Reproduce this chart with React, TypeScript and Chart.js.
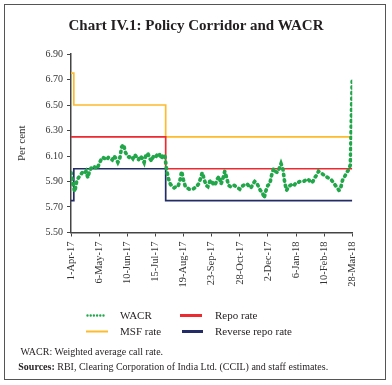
import React, { useEffect, useRef } from "react";
import { Chart, registerables } from "chart.js";

Chart.register(...registerables);

// Tick labels shown on the x axis (one every `daysPerTick` observations)
const tickLabels = [
  "1-Apr-17", "6-May-17", "10-Jun-17", "15-Jul-17", "19-Aug-17", "23-Sep-17",
  "28-Oct-17", "2-Dec-17", "6-Jan-18", "10-Feb-18", "28-Mar-18",
];
const daysPerTick = 15;

// WACR (per cent), one value per observation
const wacr = [
  5.97, 5.88, 5.82, 5.90, 5.93, 5.95, 5.97, 5.96, 5.98, 5.93,
  5.99, 6.01, 6.02, 6.01, 6.00, 6.04, 6.07, 6.09, 6.08, 6.07,
  6.09, 6.08, 6.07, 6.10, 6.08, 6.05, 6.08, 6.17, 6.19, 6.13,
  6.10, 6.09, 6.10, 6.08, 6.11, 6.09, 6.07, 6.10, 6.08, 6.05,
  6.11, 6.12, 6.08, 6.06, 6.10, 6.09, 6.11, 6.12, 6.08, 6.10,
  6.11, 5.99, 5.92, 5.88, 5.86, 5.85, 5.86, 5.86, 5.90, 5.98,
  5.91, 5.86, 5.85, 5.84, 5.84, 5.84, 5.85, 5.86, 5.88, 5.92,
  5.97, 5.92, 5.87, 5.86, 5.90, 5.91, 5.87, 5.88, 5.92, 5.94,
  5.88, 5.92, 5.98, 5.93, 5.87, 5.86, 5.86, 5.87, 5.86, 5.85,
  5.84, 5.86, 5.87, 5.88, 5.88, 5.86, 5.85, 5.88, 5.90, 5.89,
  5.86, 5.83, 5.82, 5.77, 5.83, 5.87, 5.88, 5.95, 6.00, 5.98,
  5.97, 6.00, 6.04, 6.00, 5.89, 5.83, 5.86, 5.87, 5.88, 5.87,
  5.89, 5.89, 5.90, 5.90, 5.90, 5.91, 5.92, 5.91, 5.89, 5.90,
  5.93, 5.95, 5.98, 5.97, 5.96, 5.95, 5.94, 5.93, 5.92, 5.91,
  5.89, 5.87, 5.85, 5.83, 5.86, 5.92, 5.94, 5.97, 5.99, 6.03,
  6.70,
];

// Policy rates: observation index at which each rate takes effect
const msfDay = [0, 1.5, 50.5, 150];
const msfRate = [6.75, 6.5, 6.25, 6.25];
const repoDay = [0, 50.5, 150];
const repoRate = [6.25, 6.0, 6.0];
const revDay = [0, 1.5, 50.5, 150];
const revRate = [5.75, 6.0, 5.75, 5.75];

const yTicks = { min: 5.5, max: 6.9, step: 0.2 };

const GREEN = "#22a64a";
const YELLOW = "#fdbb2d";
const RED = "#ec2a30";
const NAVY = "#232c66";
const FONT = '"Liberation Serif", "Times New Roman", serif';

export default function App() {
  const ref = useRef<HTMLCanvasElement | null>(null);

  useEffect(() => {
    if (!ref.current) return;
    const toPts = (xs: number[], ys: number[]) => xs.map((x, i) => ({ x, y: ys[i] }));
    const chart = new Chart(ref.current, {
      type: "line",
      data: {
        datasets: [
          {
            label: "WACR",
            data: wacr.map((y, i) => ({ x: i, y })),
            borderColor: GREEN,
            borderWidth: 3.7,
            borderDash: [1.2, 4.4],
            borderCapStyle: "round",
            pointRadius: 0,
            tension: 0,
          },
          {
            label: "Repo rate",
            data: toPts(repoDay, repoRate),
            borderColor: RED,
            borderWidth: 1.7,
            stepped: true,
            pointRadius: 0,
          },
          {
            label: "MSF rate",
            data: toPts(msfDay, msfRate),
            borderColor: YELLOW,
            borderWidth: 1.7,
            stepped: true,
            pointRadius: 0,
          },
          {
            label: "Reverse repo rate",
            data: toPts(revDay, revRate),
            borderColor: NAVY,
            borderWidth: 1.7,
            stepped: true,
            pointRadius: 0,
          },
        ],
      },
      options: {
        animation: false,
        responsive: false,
        devicePixelRatio: 1,
        layout: { padding: { left: 0, top: 54, right: 39.75, bottom: 82.5 } },
        plugins: { legend: { display: false }, tooltip: { enabled: false }, title: { display: false } },
        scales: {
          x: {
            type: "linear",
            min: 0,
            max: (tickLabels.length - 1) * daysPerTick,
            afterFit: (s: any) => { s.height = 70; },
            border: { display: true, color: "#444", width: 1.5 },
            grid: { drawOnChartArea: false, drawTicks: true, tickLength: 4, color: "#444" },
            ticks: {
              stepSize: daysPerTick,
              autoSkip: false,
              maxRotation: 90,
              minRotation: 90,
              padding: 5,
              color: "#333",
              font: { family: FONT, size: 10.5 },
              callback: (v: any) => {
                const k = Math.round(Number(v) / daysPerTick);
                return Math.abs(Number(v) - k * daysPerTick) < 1e-6 ? tickLabels[k] : "";
              },
            },
          },
          y: {
            min: yTicks.min,
            max: yTicks.max,
            afterFit: (s: any) => { s.width = 71; },
            border: { display: true, color: "#444", width: 1.5 },
            grid: { drawOnChartArea: false, drawTicks: true, tickLength: 4, color: "#444" },
            title: {
              display: true,
              text: "Per cent",
              color: "#333",
              font: { family: FONT, size: 11 },
              padding: { top: 16, bottom: 0 },
            },
            ticks: {
              stepSize: yTicks.step,
              padding: 4,
              color: "#333",
              font: { family: FONT, size: 10 },
              callback: (v: any) => Number(v).toFixed(2),
            },
          },
        },
      },
    });
    return () => chart.destroy();
  }, []);

  const abs = (s: React.CSSProperties): React.CSSProperties => ({ position: "absolute", ...s });

  return (
    <div
      style={{
        position: "fixed",
        left: 0,
        top: 0,
        width: 392,
        height: 385,
        background: "#fff",
        fontFamily: FONT,
        color: "#231f20",
        overflow: "hidden",
      }}
    >
      <canvas ref={ref} width={392} height={385} style={abs({ left: 0, top: 0, width: 392, height: 385 })} />
      <div style={abs({ left: 4, top: 4, width: 382, height: 376, border: "1.5px solid #555", boxSizing: "border-box" })} />
      <div style={abs({ left: 0, top: 16, width: 392, textAlign: "center", fontSize: 15, lineHeight: "18px", fontWeight: "bold" })}>
        Chart IV.1: Policy Corridor and WACR
      </div>

      {/* Legend */}
      <svg width={392} height={30} style={abs({ left: 0, top: 305 })}>
        <line x1={87.5} y1={10.5} x2={106} y2={10.5} stroke={GREEN} strokeWidth={2.4} strokeDasharray="0 3.2" strokeLinecap="round" />
        <line x1={180} y1={10.5} x2={202} y2={10.5} stroke={RED} strokeWidth={3} />
        <line x1={86} y1={26.5} x2={108} y2={26.5} stroke={YELLOW} strokeWidth={2} />
        <line x1={182} y1={26.5} x2={203} y2={26.5} stroke={NAVY} strokeWidth={3} />
      </svg>
      <div style={abs({ left: 120, top: 309, fontSize: 11, lineHeight: "13px" })}>WACR</div>
      <div style={abs({ left: 215, top: 309, fontSize: 11, lineHeight: "13px" })}>Repo rate</div>
      <div style={abs({ left: 120, top: 325, fontSize: 11, lineHeight: "13px" })}>MSF rate</div>
      <div style={abs({ left: 215, top: 325, fontSize: 11, lineHeight: "13px" })}>Reverse repo rate</div>

      {/* Notes */}
      <div style={abs({ left: 20.5, top: 346, fontSize: 10, lineHeight: "12px", whiteSpace: "nowrap" })}>
        WACR: Weighted average call rate.
      </div>
      <div style={abs({ left: 18.3, top: 360.5, fontSize: 10, lineHeight: "12px", whiteSpace: "nowrap" })}>
        <b>Sources:</b> RBI, Clearing Corporation of India Ltd. (CCIL) and staff estimates.
      </div>
    </div>
  );
}
